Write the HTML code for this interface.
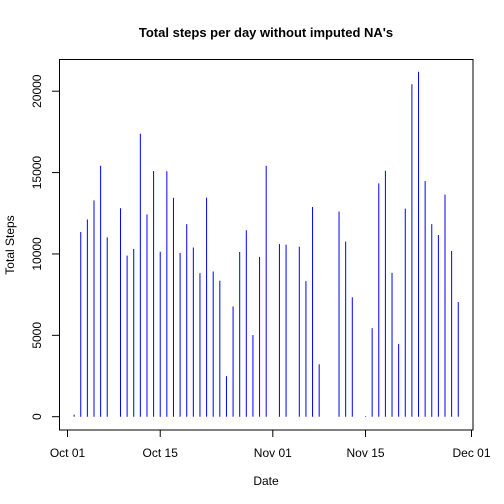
<!DOCTYPE html>
<html><head><meta charset="utf-8"><style>body{margin:0;background:#fff}svg{display:block;font-family:"Liberation Sans",Arial,sans-serif}</style></head>
<body>
<svg width="504" height="504" xmlns="http://www.w3.org/2000/svg">
<text x="266" y="37" text-anchor="middle" font-size="13" font-weight="bold">Total steps per day without imputed NA's</text>
<text x="266" y="485" text-anchor="middle" font-size="12">Date</text>
<text transform="translate(14,245) rotate(-90)" text-anchor="middle" font-size="12">Total Steps</text>
<rect x="59.5" y="59.5" width="413.5" height="370.5" fill="none" stroke="#000"/>
<g id="bars"></g>
<g id="axes"></g>
</svg>
<script>
const days = [null,126,11352,12116,13294,15420,11015,null,12811,9900,10304,17382,12426,15098,10139,15084,13452,10056,11829,10395,8821,13460,8918,8355,2492,6778,10119,11458,5018,9819,15414,null,10600,10571,null,10439,8334,12883,3219,null,null,12608,10765,7336,null,41,5441,14339,15110,8841,4472,12787,20427,21194,14478,11834,11162,13646,10183,7047,null];
const yTicks = [0,5000,10000,15000,20000];
const xTickDays = [0,14,31,45,61];
const xTickLabels = ["Oct 01","Oct 15","Nov 01","Nov 15","Dec 01"];
const NS="http://www.w3.org/2000/svg";
const x = d => 67.5 + d*(404/61);
const y = v => 416.7 - v*0.016275;
const bars=document.getElementById('bars'), axes=document.getElementById('axes');
function mk(tag,attrs,parent){const e=document.createElementNS(NS,tag);for(const k in attrs)e.setAttribute(k,attrs[k]);parent.appendChild(e);return e;}
days.forEach((v,i)=>{ if(v===null) return;
  const l=mk('line',{x1:x(i),x2:x(i),y1:y(0),y2:y(v),stroke:'#0000ff','stroke-width':1},bars);
  
  
});
yTicks.forEach(t=>{
  const l=mk('line',{x1:52,x2:59.5,y1:y(t),y2:y(t),stroke:'#000'},axes);
  
  
  const tx=mk('text',{transform:`translate(41,${y(t)}) rotate(-90)`,'text-anchor':'middle','font-size':12},axes);
  tx.textContent=t;
  
  
});
mk('line',{x1:59.5,x2:59.5,y1:y(0),y2:y(20000),stroke:'#000'},axes);
mk('line',{x1:x(0),x2:x(61),y1:430,y2:430,stroke:'#000'},axes);
xTickDays.forEach((d,i)=>{
  const l=mk('line',{x1:x(d),x2:x(d),y1:430,y2:437,stroke:'#000'},axes);
  
  
  const tx=mk('text',{x:x(d),y:457,'text-anchor':'middle','font-size':12},axes);
  tx.textContent=xTickLabels[i];
  
  
});
</script>
</body></html>
